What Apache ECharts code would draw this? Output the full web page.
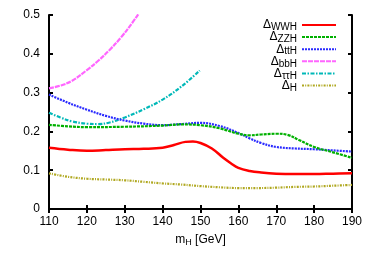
<!DOCTYPE html>
<html><head><meta charset="utf-8">
<script src="https://cdn.jsdelivr.net/npm/echarts@6/dist/echarts.min.js"></script>
<style>html,body{margin:0;padding:0;background:#fff}#c{width:374px;height:262px}</style>
</head><body><div id="c"></div>
<script>
// Data
const xTicks = [110, 120, 130, 140, 150, 160, 170, 180, 190];
const yTicks = [0, 0.1, 0.2, 0.3, 0.4, 0.5];
const seriesNames = ['WWH', 'ZZH', 'ttH', 'bbH', 'ττH', 'H'];
const wwhX = [110, 115, 120, 125, 130, 135, 140, 143, 146, 148, 150, 153, 156, 158, 160, 163, 166, 170, 175, 180, 185, 190];
const wwhY = [0.158, 0.153, 0.150, 0.152, 0.154, 0.155, 0.158, 0.165, 0.173, 0.174, 0.170, 0.156, 0.132, 0.118, 0.106, 0.098, 0.094, 0.091, 0.090, 0.090, 0.091, 0.092];
const zzhX = [110, 115, 120, 130, 140, 145, 150, 155, 160, 163, 166, 170, 173, 176, 180, 185, 190];
const zzhY = [0.217, 0.213, 0.211, 0.212, 0.215, 0.218, 0.216, 0.208, 0.194, 0.190, 0.192, 0.194, 0.191, 0.178, 0.160, 0.146, 0.132];
const tthX = [110, 115, 120, 125, 130, 135, 140, 145, 150, 155, 160, 163, 166, 170, 175, 180, 185, 190];
const tthY = [0.295, 0.274, 0.256, 0.240, 0.228, 0.220, 0.216, 0.219, 0.222, 0.214, 0.196, 0.182, 0.170, 0.160, 0.156, 0.154, 0.151, 0.148];
const bbhX = [110, 113, 116, 120, 123, 126, 129, 132, 134, 136];
const bbhY = [0.311, 0.318, 0.330, 0.358, 0.382, 0.410, 0.442, 0.480, 0.508, 0.538];
const tautauhX = [110, 113, 116, 120, 123, 126, 130, 135, 140, 145, 149.8];
const tautauhY = [0.248, 0.236, 0.226, 0.220, 0.219, 0.223, 0.236, 0.257, 0.282, 0.316, 0.357];
const hX = [110, 115, 120, 125, 130, 135, 140, 145, 150, 155, 160, 165, 170, 175, 180, 185, 190];
const hY = [0.092, 0.083, 0.078, 0.076, 0.074, 0.070, 0.066, 0.063, 0.059, 0.056, 0.054, 0.054, 0.055, 0.057, 0.058, 0.060, 0.062];

const pairs = (xs, ys) => xs.map((x, i) => [x, ys[i]]);
const styles = [
  {color: '#ff0000', width: 2.5, type: 'solid'},
  {color: '#00b000', width: 2.2, type: [3, 1]},
  {color: '#2a2aff', width: 2.2, type: [2, 1]},
  {color: '#ff66ff', width: 2.2, type: [5, 1]},
  {color: '#00b8b8', width: 2.2, type: [4, 1.5, 1.5, 1.5]},
  {color: '#b0a820', width: 2.2, type: [2, 1.2, 1, 1.2]}
];
const dataSets = [pairs(wwhX, wwhY), pairs(zzhX, zzhY), pairs(tthX, tthY), pairs(bbhX, bbhY), pairs(tautauhX, tautauhY), pairs(hX, hY)];

const chart = echarts.init(document.getElementById('c'), null, {renderer: 'canvas'});
const font = 'Liberation Sans, Arial, sans-serif';
const axisCommon = {
  axisLine: {show: true, lineStyle: {color: '#000', width: 2}},
  axisTick: {show: true, inside: true, length: 4, lineStyle: {color: '#000', width: 2}},
  splitLine: {show: false}
};
chart.setOption({
  animation: false,
  grid: {left: 49, right: 22, top: 15, bottom: 53},
  xAxis: [
    Object.assign({type: 'value', min: 110, max: 190, interval: 10, position: 'bottom',
      axisLabel: {color: '#000', fontSize: 12, fontFamily: font, margin: 7},
      name: '{m|m}{s|H} {m|[GeV]}', nameLocation: 'middle', nameGap: 23,
      nameTextStyle: {color: '#000', fontFamily: font, rich: {
        m: {fontSize: 12, fontFamily: font, color: '#000'},
        s: {fontSize: 9, fontFamily: font, color: '#000', padding: [6, 0, 0, 0]}
      }}}, axisCommon),
    Object.assign({type: 'value', min: 110, max: 190, interval: 10, position: 'top', axisLabel: {show: false}}, axisCommon)
  ],
  yAxis: [
    Object.assign({type: 'value', min: 0, max: 0.5, interval: 0.1, position: 'left',
      axisLabel: {color: '#000', fontSize: 12, fontFamily: font, margin: 9,
        formatter: v => String(Math.round(v * 10) / 10)}}, axisCommon),
    Object.assign({type: 'value', min: 0, max: 0.5, interval: 0.1, position: 'right', axisLabel: {show: false}}, axisCommon)
  ],
  legend: {
    orient: 'vertical', right: 37, top: 19, padding: 0, align: 'right',
    itemWidth: 34, itemHeight: 10, itemGap: -1.4,
    itemStyle: {opacity: 0},
    data: seriesNames.map(n => 'Δ' + n),
    formatter: name => '{d|Δ}{s|' + name.slice(1) + '}',
    textStyle: {color: '#000', fontFamily: font, rich: {
      d: {fontSize: 12, fontFamily: font, color: '#000'},
      s: {fontSize: 10, fontFamily: font, color: '#000', padding: [5, 0, 0, 0]}
    }}
  },
  series: seriesNames.map((n, i) => ({
    name: 'Δ' + n, type: 'line', smooth: 0.4, symbol: 'none', clip: true,
    xAxisIndex: 0, yAxisIndex: 0,
    data: dataSets[i],
    lineStyle: styles[i], itemStyle: {color: styles[i].color}, z: 10 - i
  }))
});
</script></body></html>
